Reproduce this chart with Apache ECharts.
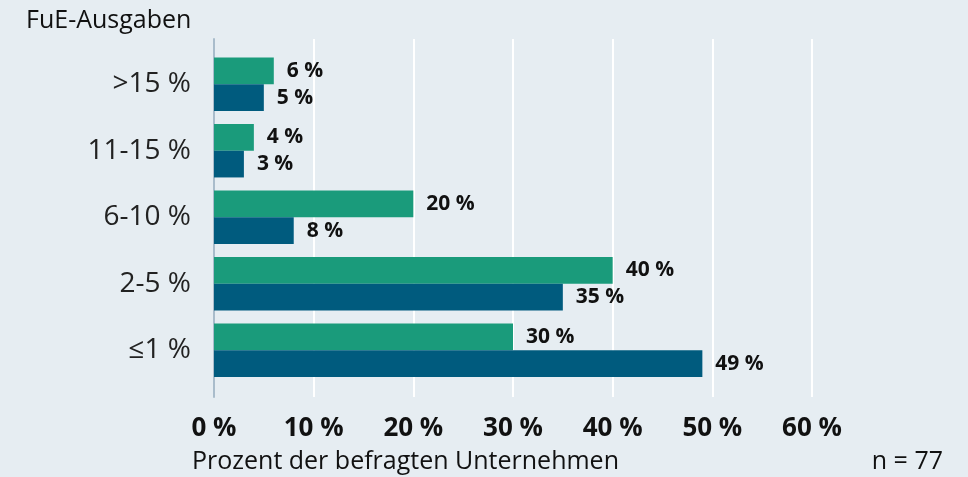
<!DOCTYPE html>
<html><head><meta charset="utf-8">
<script src="https://cdn.jsdelivr.net/npm/echarts@6/dist/echarts.min.js"></script>
<style>html,body{margin:0;padding:0;background:#e6edf2;}#c{width:968px;height:477px;}</style>
</head><body><div id="c"></div>
<script>
const categories = [">15 %", "11-15 %", "6-10 %", "2-5 %", "≤1 %"];
const seriesA = [6, 4, 20, 40, 30];
const seriesB = [5, 3, 8, 35, 49];
const xTicks = [0, 10, 20, 30, 40, 50, 60];
const yTitle = "FuE-Ausgaben";
const xTitle = "Prozent der befragten Unternehmen";
const note = "n = 77";

const FONT = '"Open Sans", "Noto Sans", sans-serif';
const chart = echarts.init(document.getElementById('c'));
const lbl = {show: true, position: 'right', distance: 13, formatter: p => p.value + ' %',
  fontFamily: FONT, fontWeight: 'bold', fontSize: 21, color: '#111'};
chart.setOption({
  backgroundColor: '#e6edf2',
  animation: false,
  textStyle: {fontFamily: FONT},
  title: [
    {text: yTitle, left: 21, top: 3, textStyle: {fontFamily: FONT, fontWeight: 'normal', fontSize: 25, color: '#111'}},
    {text: xTitle, left: 187, top: 444, textStyle: {fontFamily: FONT, fontWeight: 'normal', fontSize: 25, color: '#111'}},
    {text: note, right: 20, top: 444, textStyle: {fontFamily: FONT, fontWeight: 'normal', fontSize: 25, color: '#111'}}
  ],
  grid: [
    {left: 214, right: 156, top: 51, height: 332.5},
    {left: 214, right: 156, top: 39, height: 358}
  ],
  xAxis: [
    {gridIndex: 0, type: 'value', min: 0, max: 60, interval: 10, show: false},
    {gridIndex: 1, type: 'value', min: xTicks[0], max: xTicks[xTicks.length-1], interval: 10,
      axisLine: {show: false}, axisTick: {show: false},
      splitLine: {show: true, lineStyle: {color: '#ffffff', width: 2}},
      axisLabel: {formatter: v => v + ' %', margin: 19, fontFamily: FONT, fontWeight: 'bold', fontSize: 26, color: '#111'}}
  ],
  yAxis: [
    {gridIndex: 0, type: 'category', data: categories, inverse: true,
      axisLine: {show: false}, axisTick: {show: false},
      axisLabel: {margin: 23, fontFamily: FONT, fontSize: 28, color: '#222'}},
    {gridIndex: 1, type: 'value', min: 0, max: 1, axisLabel: {show: false}, splitLine: {show: false},
      axisTick: {show: false}, axisLine: {show: true, lineStyle: {color: '#a9bccb', width: 2}}}
  ],
  series: [
    {type: 'bar', xAxisIndex: 0, yAxisIndex: 0, data: seriesA, barWidth: 26.7, barGap: '0%',
      itemStyle: {color: '#1a9b7b'}, label: lbl, z: 3},
    {type: 'bar', xAxisIndex: 0, yAxisIndex: 0, data: seriesB, barWidth: 26.7, barGap: '0%',
      itemStyle: {color: '#005b7e'}, label: lbl, z: 3}
  ]
});
</script></body></html>
